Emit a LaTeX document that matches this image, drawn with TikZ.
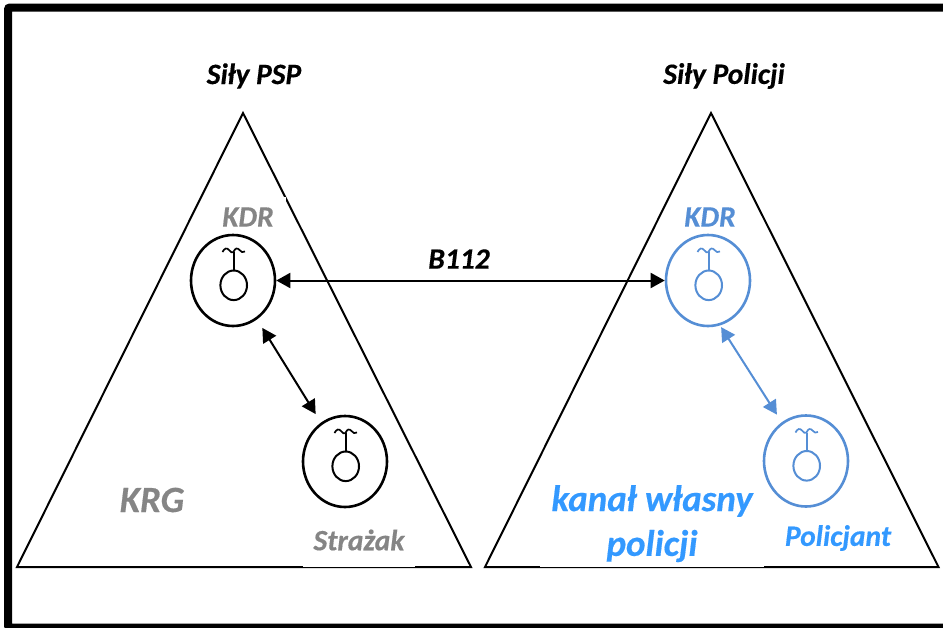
\documentclass[tikz,border=0pt]{standalone}
\usepackage{fontspec}
\setmainfont{Carlito}[BoldItalicFeatures={FakeBold=0.4}]
\usetikzlibrary{arrows.meta,shapes.geometric}
\definecolor{pblue}{HTML}{558ED5}
\definecolor{tblue}{HTML}{3399FF}
\definecolor{tgray}{HTML}{858585}
\tikzset{
  tri/.style={draw=black,line width=2pt,line join=miter},
  radio/.style={ellipse,draw,line width=2.6pt,minimum width=84pt,minimum height=91pt,inner sep=0pt},
  lab/.style={inner sep=0pt,anchor=center},
  small/.style={lab,font=\fontsize{29.5}{32}\selectfont\bfseries\itshape},
  big/.style={lab,font=\fontsize{37}{40}\selectfont\bfseries\itshape},
  link/.style={line width=2pt,{Triangle[length=14pt,width=15pt]}-{Triangle[length=14pt,width=15pt]}},
  handset/.pic={
    \draw[line width=2pt] (0.7,4.8) ellipse (13.3pt and 14.8pt);
    \draw[line width=2pt] (0.5,-10) -- (0.5,-28.5);
    \draw[line width=1.7pt] (-10.5,-28.5) .. controls (-8.5,-32.5) and (-6,-33) .. (-4,-30.5)
       .. controls (-2.5,-28.5) and (-0.5,-27) .. (0.5,-28.5)
       .. controls (2,-32.5) and (4.5,-33) .. (6.5,-30.5)
       .. controls (8,-28.5) and (10,-27.5) .. (12,-29);
  }
}
\begin{document}
\begin{tikzpicture}[x=1pt,y=-1pt]
\useasboundingbox (0,0) rectangle (943,627);
\fill[white] (0,0) rectangle (943,627);
% frame
\draw[line width=8pt,rounded corners=2pt] (8,7.5) rectangle (960,627.5);
% triangles
\coordinate (la) at (243,113); \coordinate (lb) at (17,567); \coordinate (lc) at (471,567);
\coordinate (ra) at (711,113); \coordinate (rb) at (485,567); \coordinate (rc) at (938.5,567);
\draw[tri] (la) -- (lb) -- (lc) -- cycle;
\draw[tri] (ra) -- (rb) -- (rc) -- cycle;
\fill[white] (303,565.5) rectangle (415,567);
\fill[white] (540,565.5) rectangle (764,567);
\fill[white] (284,197) rectangle (286.2,203);
% radios
\node[radio] (k1) at (233,280.5) {};
\node[radio] (s1) at (345,461.5) {};
\node[radio,draw=pblue] (k2) at (708,280.5) {};
\node[radio,draw=pblue] (p2) at (806,461) {};
\pic at (k1) {handset};
\pic at (s1) {handset};
\pic[pblue] at (k2) {handset};
\pic[pblue] at (p2) {handset};
% connectors
\draw[link] (k1) -- (k2);
\draw[link,shorten <=10pt,shorten >=10pt] (k1) -- (s1);
\draw[link,pblue,shorten <=2pt,shorten >=9pt] (k2.-75) -- (p2.122);
% labels
\node[small] (t1) at (254,76) {Siły PSP};
\node[small] (t2) at (724,76) {Siły Policji};
\node[small,tgray] (t3) at (248,217) {KDR};
\node[small,pblue] (t4) at (710,217) {KDR};
\node[small] (t5) at (459,259) {B112};
\node[big,tgray] (t6) at (152,500) {KRG};
\node[small,tgray] (t7) at (359,540) {Strażak};
\node[big,tblue] (t8) at (652,501) {kanał własny};
\node[big,tblue] (t9) at (652,546) {policji};
\node[small,tblue] (t10) at (838,538) {Policjant};
\end{tikzpicture}
\end{document}
